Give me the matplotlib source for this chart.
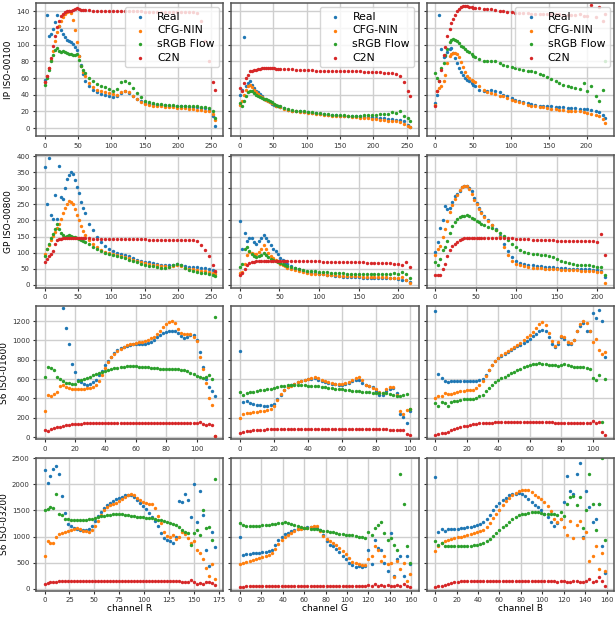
import numpy as np
import matplotlib
matplotlib.use("Agg")
import matplotlib.pyplot as plt
from matplotlib.ticker import MaxNLocator

nan = np.nan

series_names = ["Real", "CFG-NIN", "sRGB Flow", "C2N"]
row_labels = ["IP ISO-00100", "GP ISO-00800", "S6 ISO-01600", "S6 ISO-03200"]
col_labels = ["channel R", "channel G", "channel B"]

# ---- channel grids (sampled pixel values) ----
x_256 = [0, 3, 6, 9, 12, 15, 18, 21, 24, 27, 30, 33, 36, 39, 42, 45, 48, 51, 54, 57, 60,
         66, 72, 78, 84, 90, 96, 102, 108, 114, 120, 126, 132, 138, 144, 150, 156, 162,
         168, 174, 180, 186, 192, 198, 204, 210, 216, 222, 228, 234, 240, 246, 252, 255]
x_ip_b = [0, 3, 5, 8, 11, 13, 16, 19, 21, 24, 26, 29, 32, 34, 37, 40, 42, 45, 48, 50, 53,
          58, 64, 69, 74, 79, 85, 90, 95, 101, 106, 111, 116, 122, 127, 132, 138, 143,
          148, 153, 159, 164, 169, 175, 180, 185, 191, 196, 201, 206, 212, 217, 222, 225]
x_gp_g = [0, 3, 6, 9, 12, 15, 18, 21, 24, 27, 30, 33, 36, 39, 42, 45, 48, 51, 54, 57, 60,
          65, 70, 75, 80, 85, 90, 95, 100, 105, 110, 115, 120, 125, 130, 135, 140, 145,
          150, 155, 160, 165, 170, 175, 180, 185, 190, 195, 200, 205, 210, 215]
x_gp_b = [0, 3, 6, 9, 12, 15, 18, 21, 24, 27, 30, 33, 36, 39, 42, 45, 48, 51, 54, 57, 60,
          65, 70, 75, 80, 85, 90, 95, 100, 105, 110, 115, 120, 125, 130, 135, 140, 145,
          150, 155, 160, 165, 170, 175, 180, 185, 190, 195, 200, 205, 210]
x_s6a_r = [0, 2, 4, 6, 8, 10, 12, 14, 16, 18, 20, 22, 24, 26, 28, 30, 32, 34, 36, 38, 40,
           42, 44, 46, 48, 50, 52, 54, 56, 58, 60, 62, 64, 66, 68, 70, 72, 74, 76, 78, 80,
           82, 84, 86, 88, 90, 92, 94, 96, 98, 100, 102, 104, 106, 108, 110, 112]
x_s6a_g = [0, 2, 4, 6, 8, 10, 12, 14, 16, 18, 20, 22, 24, 26, 28, 30, 32, 34, 36, 38, 40,
           42, 44, 46, 48, 50, 52, 54, 56, 58, 60, 62, 64, 66, 68, 70, 72, 74, 76, 78, 80,
           82, 84, 86, 88, 90, 92, 94, 96, 98, 100]
x_s6a_b = [0, 2, 4, 6, 8, 10, 12, 14, 16, 18, 20, 22, 24, 26, 28, 30, 32, 34, 36, 38, 40,
           42, 44, 46, 48, 50, 52, 54, 56, 58, 60, 62, 64, 66, 68, 70, 72, 74, 76, 78, 80,
           82, 84, 86, 88, 90, 92, 94, 96, 98, 100, 102, 104, 106, 108]
x_s6b_r = [0, 3, 6, 9, 12, 15, 18, 21, 24, 27, 30, 33, 36, 39, 42, 45, 48, 51, 54, 57, 60,
           63, 66, 69, 72, 75, 78, 81, 84, 87, 90, 93, 96, 99, 102, 105, 108, 111, 114,
           117, 120, 123, 126, 129, 132, 135, 138, 141, 144, 147, 150, 153, 156, 159, 162,
           165, 168, 171]
x_s6b_gb = [0, 3, 6, 9, 12, 15, 18, 21, 24, 27, 30, 33, 36, 39, 42, 45, 48, 51, 54, 57, 60,
            63, 66, 69, 72, 75, 78, 81, 84, 87, 90, 93, 96, 99, 102, 105, 108, 111, 114,
            117, 120, 123, 126, 129, 132, 135, 138, 141, 144, 147, 150, 153, 156, 159]

# ---- IP ISO-00100 ----
ip_r_real = [58, 136, 110, 113, 119, 127, 136, 123, 118, 113, 109, 106, 104, 103, 101, 97, 94, 86, 76, 65, 57,
             50, 46, 43, 41, 40, 38, 37, 38, 42, 45, 42, 38, 35, 32, 30, 29, 29, 28, 28, 28, 27, 27, 27, 26, 26, 25, 25, 25, 24, 24, 22, 15,
             2]
ip_r_cfg = [55, 62, 72, 82, 93, 104, 115, 123, 129, 133, 137, 139, 140, 138, 130, 118, 103, 86, 74, 67, 62,
            54, 49, 46, 44, 43, 42, 41, 40, 43, 45, 43, 39, 35, 31, 29, 28, 27, 26, 26, 25, 25, 25, 24, 24, 24, 23, 23, 22, 22, 21, 20, 17,
            10]
ip_r_srgb = [52, 60, 70, 80, 88, 94, 96, 93, 91, 92, 91, 90, 89, 89, 88, 88, 89, 82, 75, 70, 66,
             60, 56, 53, 51, 49, 47, 45, 47, 55, 56, 54, 48, 42, 37, 33, 31, 30, 29, 29, 28, 28, 28, 27, 27, 27, 26, 26, 26, 25, 25, 24, 20,
             12]
ip_r_c2n = [55, 62, 72, 84, 98, 111, 121, 129, 134, 137, 139, 140, 141, 141, 142, 143, 144, 143, 142, 142, 142,
            142, 141, 141, 141, 141, 141, 141, 140, 140, 140, 140, 140, 140, 140, 139, 139, 139, 139, 139, 139, 139, 139, 139, 139, 139, 139, 139, 138, 128, 105, 80, 55,
            46]

ip_g_real = [40, 46, 109, 50, 54, 56, 52, 48, 45, 43, 41, 38, 35, 34, 33, 31, 29, 28, 27, 26, 25,
             24, 22, 21, 20, 20, 19, 19, 18, 18, 17, 17, 16, 16, 16, 15, 15, 15, 14, 14, 14, 13, 13, 13, 12, 12, 12, 11, 11, 10, 10, 8, 4,
             1]
ip_g_cfg = [28, 32, 40, 46, 50, 52, 49, 46, 43, 41, 39, 37, 35, 34, 33, 31, 30, 29, 27, 26, 25,
            23, 22, 21, 20, 19, 19, 18, 18, 17, 17, 16, 16, 15, 15, 15, 14, 14, 13, 13, 12, 12, 12, 11, 11, 10, 10, 9, 9, 8, 7, 5, 3,
            1]
ip_g_srgb = [30, 26, 32, 38, 43, 45, 44, 42, 40, 38, 37, 36, 35, 35, 34, 33, 31, 29, 28, 27, 26,
             24, 23, 22, 21, 20, 20, 19, 19, 18, 18, 17, 17, 16, 16, 16, 16, 15, 15, 15, 15, 16, 16, 16, 16, 17, 17, 17, 19, 18, 21, 15, 12,
             8]
ip_g_c2n = [48, 44, 54, 60, 64, 68, 69, 70, 70, 71, 71, 72, 72, 72, 72, 72, 72, 72, 71, 71, 71,
            71, 71, 71, 70, 70, 70, 70, 70, 69, 69, 69, 69, 69, 69, 68, 68, 68, 68, 68, 68, 67, 67, 67, 67, 67, 66, 66, 66, 65, 62, 55, 45,
            38]

ip_b_real = [30, 40, 136, 95, 85, 87, 91, 95, 96, 90, 84, 78, 72, 67, 64, 60, 58, 56, 54, 52, 50,
             46, 44, 45, 46, 45, 43, 40, 38, 36, 34, 33, 31, 30, 29, 28, 27, 27, 26, 26, 25, 25, 25, 24, 24, 24, 23, 23, 23, 22, 21, 19, 16,
             12]
ip_b_cfg = [28, 45, 48, 51, 57, 64, 78, 86, 89, 90, 90, 89, 85, 79, 73, 67, 63, 60, 58, 57, 55,
            51, 46, 43, 42, 41, 39, 38, 36, 34, 32, 31, 30, 28, 27, 26, 25, 25, 24, 23, 23, 22, 22, 21, 21, 20, 20, 19, 18, 17, 16, 14, 11,
            6]
ip_b_srgb = [66, 60, 56, 72, 78, 88, 95, 103, 106, 107, 106, 104, 102, 99, 97, 95, 93, 91, 89, 87, 85,
             83, 80, 80, 81, 80, 78, 76, 74, 73, 72, 71, 70, 69, 68, 67, 65, 64, 61, 59, 57, 54, 52, 51, 49, 48, 47, 54, 44, 50, 38, 32, 46,
             80]
ip_b_c2n = [26, 44, 56, 70, 88, 97, 110, 119, 126, 131, 136, 140, 143, 145, 146, 146, 146, 145, 145, 144, 144,
            144, 143, 143, 143, 142, 141, 140, 139, 139, 138, 138, 138, 138, 137, 137, 137, 137, 137, 137, 137, 137, 136, 136, 136, 136, 137, 135, 134, 148, 133, 145, 129,
            137]

# ---- GP ISO-00800 ----
gp_r_real = [365, 250, 395, 218, 205, 280, 205, 368, 272, 268, 300, 330, 342, 350, 345, 325, 305, 285, 258, 238, 222,
             190, 170, 150, 133, 120, 110, 105, 100, 96, 92, 88, 82, 78, 75, 72, 70, 68, 65, 63, 62, 60, 63, 66, 62, 57, 56, 55, 54, 53, 52, 50, 45,
             40]
gp_r_cfg = [97, 110, 125, 138, 152, 165, 178, 190, 205, 222, 238, 252, 260, 258, 250, 235, 218, 200, 183, 168, 155,
            138, 126, 117, 108, 103, 98, 95, 92, 89, 86, 82, 78, 74, 70, 67, 64, 62, 60, 58, 57, 56, 58, 62, 57, 53, 50, 48, 46, 44, 42, 40, 37,
            34]
gp_r_srgb = [90, 110, 128, 145, 158, 172, 188, 172, 162, 155, 150, 152, 156, 152, 150, 148, 146, 142, 138, 135, 132,
             126, 118, 112, 106, 100, 95, 92, 89, 86, 82, 78, 74, 70, 66, 62, 59, 57, 55, 53, 52, 54, 60, 66, 60, 52, 45, 42, 40, 38, 36, 33, 30,
             27]
gp_r_c2n = [70, 80, 88, 95, 105, 128, 138, 141, 143, 144, 145, 145, 146, 146, 145, 145, 145, 144, 144, 144, 144,
            144, 143, 143, 143, 142, 142, 142, 142, 142, 142, 141, 141, 141, 141, 141, 140, 140, 140, 140, 140, 140, 140, 139, 139, 139, 139, 139, 136, 125, 108, 90, 60,
            42]

gp_g_real = [198, 112, 160, 137, 146, 145, 132, 128, 136, 146, 155, 146, 135, 124, 112, 104, 95, 84, 76, 70, 64,
             58, 53, 48, 44, 41, 38, 36, 34, 33, 31, 29, 28, 27, 25, 24, 24, 23, 23, 22, 22, 21, 21, 21, 20, 20, 20, 20, 18, 16, 14, 8]
gp_g_cfg = [36, 41, 65, 92, 102, 99, 96, 96, 102, 112, 124, 110, 99, 90, 82, 76, 71, 66, 62, 57, 53,
            49, 45, 42, 39, 37, 35, 34, 33, 32, 31, 30, 29, 28, 28, 27, 27, 26, 26, 25, 25, 25, 24, 24, 23, 23, 22, 22, 22, 25, 15, 5]
gp_g_srgb = [56, 66, 112, 118, 104, 96, 90, 87, 88, 93, 100, 92, 86, 81, 77, 73, 71, 69, 65, 61, 58,
             55, 52, 49, 46, 44, 43, 42, 41, 40, 39, 38, 37, 36, 36, 35, 35, 34, 34, 33, 33, 33, 33, 33, 34, 34, 35, 36, 35, 39, 33, 20]
gp_g_c2n = [31, 36, 50, 62, 67, 70, 72, 73, 73, 73, 74, 74, 75, 75, 75, 75, 75, 75, 75, 75, 75,
            75, 74, 74, 74, 74, 73, 73, 73, 72, 72, 72, 71, 71, 71, 71, 70, 70, 70, 70, 69, 69, 69, 68, 68, 67, 67, 66, 66, 60, 70, 55]

gp_b_real = [102, 132, 178, 200, 244, 236, 239, 256, 275, 283, 292, 303, 307, 306, 302, 290, 270, 255, 238, 226, 215,
             200, 186, 172, 153, 128, 105, 85, 75, 69, 65, 62, 60, 58, 57, 56, 55, 54, 53, 52, 51, 50, 49, 49, 48, 48, 48, 47, 45, 42, 25]
gp_b_cfg = [92, 112, 122, 150, 173, 198, 225, 248, 266, 280, 295, 303, 307, 307, 297, 282, 265, 250, 235, 222, 211,
            198, 186, 170, 150, 118, 92, 75, 66, 61, 57, 55, 53, 52, 51, 50, 49, 48, 48, 47, 46, 46, 45, 45, 44, 44, 43, 42, 41, 39, 5]
gp_b_srgb = [71, 60, 81, 108, 117, 135, 160, 182, 195, 204, 210, 214, 215, 216, 213, 209, 203, 198, 194, 190, 187,
             180, 175, 169, 161, 152, 140, 128, 117, 108, 103, 100, 97, 95, 93, 92, 90, 87, 80, 75, 70, 67, 65, 63, 62, 61, 60, 58, 56, 55, 31]
gp_b_c2n = [31, 31, 31, 48, 66, 88, 107, 120, 128, 134, 139, 142, 144, 145, 145, 145, 145, 145, 145, 145, 145,
            145, 145, 145, 145, 145, 144, 144, 143, 142, 142, 141, 140, 140, 140, 139, 139, 138, 137, 137, 137, 137, 137, 137, 136, 136, 136, 135, 133, 158, 92]

# ---- S6 ISO-01600 ----
s6a_r_real = [nan, nan, nan, nan, nan, nan, 1330, 1130, 960, 760, 676, 592, 570, 552, 541, 548, 565, 595, 640, 680,
              740, 790, 830, 865, 900, 920, 935, 945, 955, 960, 963, 963, 963, 965, 970, 980, 1000, 1030, 1055, 1080,
              1090, 1095, 1097, 1095, 1080, 1050, 1020, 1030, 1060, 1055, 1000, 880, 720, 600, 520, 480, 420]
s6a_r_cfg = [270, 440, 429, 450, 470, 525, 535, 515, 505, 500, 497, 497, 497, 500, 505, 512, 520, 540, 575, 640,
             710, 775, 825, 862, 890, 913, 930, 947, 958, 966, 972, 978, 985, 995, 1005, 1020, 1038, 1065, 1100, 1135,
             1166, 1190, 1200, 1180, 1120, 1075, 1068, 1065, 1065, 1030, 990, 830, 700, 560, 400, 330, 10]
s6a_r_srgb = [620, 727, 710, 690, 625, 600, 575, 555, 560, 548, 545, 578, 590, 598, 610, 625, 637, 648, 660, 672,
              685, 694, 702, 710, 717, 722, 727, 730, 733, 734, 730, 727, 724, 722, 720, 717, 714, 710, 706, 703,
              700, 700, 702, 705, 700, 697, 690, 680, 666, 650, 632, 620, 610, 620, 642, 600, 1240]
s6a_r_c2n = [68, 62, 80, 92, 100, 108, 115, 122, 127, 131,
             135, 138, 140, 142, 143, 144, 145, 145, 145, 145,
             145, 145, 145, 145, 145, 145, 145, 145, 145, 145,
             145, 145, 144, 144, 144, 144, 144, 143, 143, 143,
             143, 142, 142, 142, 142, 142, 142, 142, 142, 143,
             145, 152, 140, 130, 140, 125, 10]

s6a_g_real = [889, 365, 368, 355, 345, 336, 328, 322, 322, 328, 345, 392, 440, 490, 522, 540, 553, 568, 580, 590,
              598, 605, 607, 595, 580, 568, 558, 550, 545, 541, 543, 550, 563, 575, 590, 585, 555, 535, 530, 520,
              480, 440, 440, 480, 500, 505, 460, 237, 203, 150, 270]
s6a_g_cfg = [193, 240, 250, 254, 257, 260, 265, 270, 280, 294, 320, 380, 445, 490, 515, 531, 548, 565, 580, 592,
             603, 614, 619, 612, 595, 578, 565, 555, 551, 550, 551, 556, 565, 585, 609, 620, 585, 541, 530, 510,
             497, 470, 460, 497, 520, 515, 440, 270, 237, 281, 290]
s6a_g_srgb = [463, 440, 455, 463, 468, 475, 483, 488, 493, 497, 505, 515, 524, 532, 538, 541, 541, 541, 540, 537,
              533, 530, 527, 525, 522, 515, 507, 503, 500, 497, 492, 487, 483, 479, 476, 473, 470, 465, 462, 460,
              457, 455, 454, 451, 448, 440, 429, 423, 440, 450, 287]
s6a_g_c2n = [44, 51, 58, 64, 68, 72, 76, 78, 80, 82,
             84, 85, 85, 85, 86, 86, 86, 86, 86, 86,
             86, 86, 86, 86, 86, 85, 85, 85, 85, 85,
             85, 85, 84, 84, 84, 83, 83, 82, 82, 81,
             81, 80, 80, 79, 78, 77, 76, 75, 74, 34,
             20]

s6a_b_real = [1302, 652, 610, 575, 568, 575, 575, 575, 575, 575, 575, 575, 575, 578, 585, 605, 642, 690, 740, 785,
              815, 835, 860, 880, 905, 925, 940, 955, 970, 990, 1014, 1040, 1065, 1100, 1110, 1099, 1031, 963, 930, 963,
              1038, 1014, 963, 963, 1000, 1100, 1150, 1175, 1099, 1100, 1285, 1234, 1318, 1200, 828]
s6a_b_cfg = [406, 423, 429, 456, 445, 450, 458, 465, 473, 478, 483, 487, 490, 505, 535, 575, 630, 690, 744, 790,
             820, 845, 870, 890, 912, 930, 950, 975, 1000, 1030, 1060, 1090, 1130, 1170, 1193, 1160, 1080, 990, 940, 980,
             1040, 1030, 980, 970, 1000, 1099, 1166, 1200, 1183, 1099, 980, 1014, 900, 862, 879]
s6a_b_srgb = [355, 321, 362, 355, 321, 362, 368, 372, 385, 396, 392, 389, 398, 406, 420, 440, 473, 505, 541, 570,
              592, 610, 625, 642, 660, 675, 692, 705, 720, 735, 748, 755, 760, 761, 758, 754, 748, 744, 740, 734,
              745, 754, 745, 734, 728, 722, 720, 720, 715, 700, 609, 592, 640, 152, 600]
s6a_b_c2n = [24, 30, 38, 46, 56, 68, 80, 92, 101, 110,
             118, 127, 135, 140, 143, 145, 147, 149, 150, 151,
             152, 152, 152, 152, 152, 152, 152, 152, 152, 152,
             152, 152, 152, 152, 152, 152, 151, 151, 150, 150,
             149, 148, 147, 146, 145, 145, 145, 144, 143, 142,
             169, 145, 159, 51, 17]

# ---- S6 ISO-03200 ----
s6b_r_real = [2281, 2031, 2156, 2300, 2344, 2188, 1781, 1450, 1238, 1200, 1156, 1138, 1128, 1125, 1130, 1150, 1200, 1290, 1400, 1469,
              1550, 1612, 1640, 1670, 1710, 1735, 1762, 1785, 1800, 1800, 1750, 1700, 1650, 1590, 1520, 1450, 1380, 1290, 1200, 1075,
              969, 925, 906, 880, 1000, 1688, 1656, 1812, 1700, 1375, 2000, 1281, 1875, 1406, 750, 438, 1094, 800]
s6b_r_cfg = [625, 906, 880, 875, 1000, 1040, 1070, 1094, 1112, 1125, 1138, 1156, 1140, 1115, 1100, 1095, 1130, 1200, 1300, 1406,
             1500, 1562, 1595, 1620, 1650, 1680, 1719, 1755, 1790, 1812, 1800, 1738, 1695, 1665, 1645, 1630, 1620, 1550, 1400, 1262,
             1094, 1012, 990, 1031, 950, 1000, 1094, 1050, 980, 875, 906, 750, 688, 562, 406, 250, 469, 188]
s6b_r_srgb = [1500, 1531, 1562, 1550, 1812, 1438, 1406, 1344, 1340, 1325, 1312, 1312, 1312, 1315, 1320, 1330, 1340, 1350, 1370, 1388,
              1398, 1406, 1415, 1425, 1425, 1425, 1422, 1412, 1405, 1395, 1388, 1380, 1375, 1368, 1362, 1355, 1350, 1340, 1325, 1312,
              1295, 1281, 1265, 1245, 1220, 1180, 1125, 1094, 1062, 844, 1062, 1125, 1031, 1500, 1156, 1188, 938, 2100]
s6b_r_c2n = [94, 112, 125, 135, 140, 143, 145, 147, 148, 150,
             150, 150, 150, 150, 150, 150, 150, 150, 150, 150,
             150, 150, 150, 150, 150, 150, 150, 150, 150, 150,
             148, 147, 146, 145, 145, 145, 145, 145, 145, 145,
             145, 145, 145, 146, 148, 150, 140, 138, 130, 175,
             125, 94, 112, 94, 125, 138, 110, 80]

s6b_g_real = [1000, 650, 660, 672, 680, 688, 692, 700, 706, 715, 745, 840, 940, 1000, 1040, 1070, 1100, 1128, 1145, 1160,
              1170, 1174, 1175, 1172, 1165, 1130, 1031, 906, 844, 812, 762, 700, 638, 562, 500, 450, 425, 438, 425, 438,
              750, 469, 938, 781, 750, 500, 344, 1062, 250, 562, 625, 250, 625, 469]
s6b_g_cfg = [469, 495, 515, 538, 555, 570, 588, 605, 625, 650, 690, 760, 850, 930, 985, 1025, 1060, 1100, 1138, 1150,
             1160, 1170, 1180, 1195, 1195, 1110, 1010, 960, 920, 875, 840, 785, 725, 660, 590, 520, 495, 480, 462, 450,
             562, 625, 812, 750, 531, 625, 469, 500, 219, 531, 375, 500, 156, 281]
s6b_g_srgb = [1250, 1219, 1210, 1206, 1206, 1206, 1206, 1212, 1219, 1225, 1235, 1245, 1255, 1262, 1269, 1262, 1245, 1220, 1200, 1185,
              1170, 1160, 1150, 1142, 1135, 1125, 1112, 1100, 1094, 1078, 1062, 1052, 1044, 1038, 1031, 1022, 1012, 1000, 988, 975,
              1094, 1031, 1156, 1219, 1281, 1062, 938, 969, 844, 750, 2188, 1625, 812, 500]
s6b_g_c2n = [31, 40, 50, 56, 60, 62, 62, 62, 62, 62,
             62, 62, 62, 62, 62, 62, 62, 62, 62, 62,
             62, 62, 62, 62, 62, 62, 62, 62, 62, 62,
             62, 62, 62, 62, 62, 62, 62, 62, 62, 62,
             75, 60, 94, 62, 75, 62, 75, 50, 62, 75,
             60, 94, 62, 40]

s6b_b_real = [2138, 1094, 1138, 1112, 1138, 1140, 1145, 1150, 1160, 1170, 1180, 1190, 1200, 1215, 1235, 1270, 1340, 1420, 1500, 1580,
              1650, 1700, 1745, 1785, 1812, 1822, 1825, 1812, 1770, 1720, 1656, 1605, 1560, 1500, 1438, 1370, 1270, 1200, 1250, 1340,
              1656, 2156, 1875, 1812, 2188, 2406, 1000, 1875, 1562, 1281, 1344, 1625, 812, 312]
s6b_b_cfg = [719, 812, 875, 906, 938, 955, 969, 985, 1000, 1020, 1035, 1050, 1065, 1085, 1100, 1125, 1180, 1260, 1350, 1440,
             1512, 1600, 1680, 1738, 1800, 1835, 1862, 1880, 1888, 1885, 1850, 1800, 1750, 1719, 1656, 1590, 1480, 1340, 1270, 1340,
             1188, 1031, 1300, 969, 1219, 1300, 969, 1094, 531, 625, 812, 375, 688, 344]
s6b_b_srgb = [906, 844, 875, 825, 812, 812, 812, 812, 812, 812, 818, 825, 835, 844, 860, 880, 920, 960, 1010, 1062,
              1120, 1175, 1230, 1281, 1330, 1375, 1405, 1425, 1438, 1450, 1460, 1469, 1462, 1450, 1435, 1425, 1435, 1430, 1406, 1469,
              1400, 1625, 1750, 1781, 1594, 1750, 1156, 1500, 2188, 1625, 1125, 1625, 2500, 938]
s6b_b_c2n = [31, 50, 65, 80, 96, 110, 125, 135, 142, 146,
             148, 150, 150, 150, 150, 150, 150, 150, 150, 150,
             150, 150, 150, 150, 150, 150, 150, 150, 150, 150,
             150, 150, 150, 150, 150, 150, 150, 148, 138, 150,
             156, 140, 125, 150, 156, 130, 125, 150, 188, 140,
             156, 219, 156, 62]

panels = [
    [(x_256, [ip_r_real, ip_r_cfg, ip_r_srgb, ip_r_c2n]),
     (x_256, [ip_g_real, ip_g_cfg, ip_g_srgb, ip_g_c2n]),
     (x_ip_b, [ip_b_real, ip_b_cfg, ip_b_srgb, ip_b_c2n])],
    [(x_256, [gp_r_real, gp_r_cfg, gp_r_srgb, gp_r_c2n]),
     (x_gp_g, [gp_g_real, gp_g_cfg, gp_g_srgb, gp_g_c2n]),
     (x_gp_b, [gp_b_real, gp_b_cfg, gp_b_srgb, gp_b_c2n])],
    [(x_s6a_r, [s6a_r_real, s6a_r_cfg, s6a_r_srgb, s6a_r_c2n]),
     (x_s6a_g, [s6a_g_real, s6a_g_cfg, s6a_g_srgb, s6a_g_c2n]),
     (x_s6a_b, [s6a_b_real, s6a_b_cfg, s6a_b_srgb, s6a_b_c2n])],
    [(x_s6b_r, [s6b_r_real, s6b_r_cfg, s6b_r_srgb, s6b_r_c2n]),
     (x_s6b_gb, [s6b_g_real, s6b_g_cfg, s6b_g_srgb, s6b_g_c2n]),
     (x_s6b_gb, [s6b_b_real, s6b_b_cfg, s6b_b_srgb, s6b_b_c2n])],
]
row_ylims = [(-10, 150), (-10, 405), (-25, 1355), (-40, 2510)]
colors = ["tab:blue", "tab:orange", "tab:green", "tab:red"]

fig, axes = plt.subplots(
    4, 3, figsize=(6.15, 6.17), dpi=100, sharey="row",
    gridspec_kw=dict(left=36 / 615, right=614 / 615, top=1 - 3 / 617,
                     bottom=1 - 591 / 617, wspace=0.043, hspace=0.135))

for r in range(4):
    for c in range(3):
        ax = axes[r, c]
        xs, ys = panels[r][c]
        for name, y, col in zip(series_names, ys, colors):
            ax.scatter(xs, y, s=6, color=col, linewidths=0, label=name)
        ax.set_axisbelow(True)
        ax.grid(True, color="#cfcfcf", linewidth=1.0)
        ax.xaxis.set_major_locator(MaxNLocator(nbins=9, steps=[1, 2, 2.5, 5, 10]))
        ax.yaxis.set_major_locator(MaxNLocator(nbins=9, steps=[1, 2, 2.5, 5, 10]))
        ax.tick_params(labelsize=5, length=2.5, width=0.8, pad=2, colors="#333333")
        for sp in ax.spines.values():
            sp.set_color("#555555")
            sp.set_linewidth(1.1)
        if c == 0:
            ax.set_ylabel(row_labels[r], fontsize=6.5, labelpad=2)
        if r == 3:
            ax.set_xlabel(col_labels[c], fontsize=6.5, labelpad=0.5)
        if r == 0:
            ax.legend(loc="upper right", fontsize=7.8, handletextpad=0.6,
                      borderaxespad=0.4, labelspacing=0.35)
    axes[r, 0].set_ylim(*row_ylims[r])

fig.savefig("out.png", dpi=100)
